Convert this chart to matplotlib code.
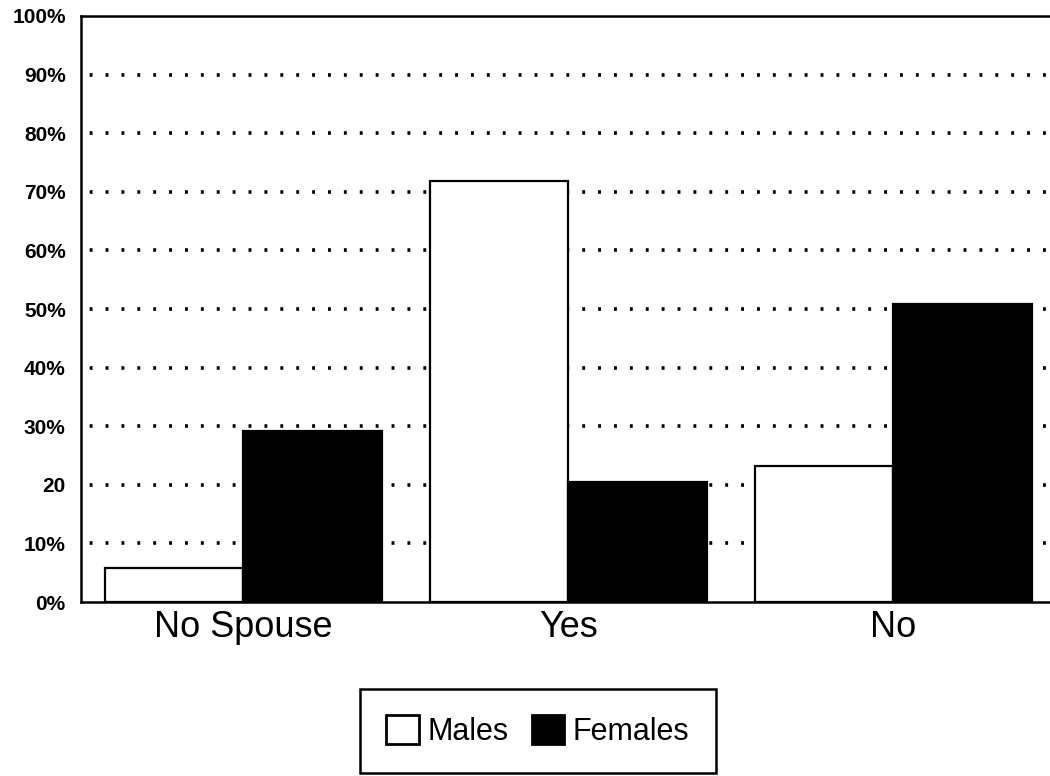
import numpy as np
import matplotlib.pyplot as plt
from matplotlib.patches import Patch

# data
categories = ["No Spouse", "Yes", "No"]
males = [5.8, 71.8, 23.2]
females = [29.2, 20.5, 50.9]
ytick_vals = [0, 10, 20, 30, 40, 50, 60, 70, 80, 90, 100]
ytick_labels = ["0%", "10%", "20", "30%", "40%", "50%", "60%", "70%", "80%", "90%", "100%"]

plt.rcParams['font.family'] = ['Liberation Sans', 'DejaVu Sans']

fig = plt.figure(figsize=(10.5, 7.76), dpi=100)
ax = fig.add_axes([0.0771, 0.2242, 0.9286, 0.7552])

x = np.arange(len(categories))
w = 0.425
ax.bar(x - w / 2, males, w, color='white', edgecolor='black', linewidth=1.6, zorder=3)
ax.bar(x + w / 2, females, w, color='black', edgecolor='black', linewidth=1.6, zorder=3)

ax.set_xlim(-0.5, 2.5)
ax.set_ylim(0, 100)

# dotted gridlines behind the bars
for v in ytick_vals[1:-1]:
    ax.axhline(v, color='black', linewidth=2.6, linestyle=(2, (0.8, 3.6)), zorder=1)

ax.set_yticks(ytick_vals)
ax.set_yticklabels(ytick_labels, fontsize=15, fontweight='bold')
ax.set_xticks(x)
ax.set_xticklabels(categories, fontsize=26)
ax.tick_params(axis='both', length=0)
ax.tick_params(axis='y', pad=11)
ax.tick_params(axis='x', pad=6)

for s in ['left', 'top', 'bottom']:
    ax.spines[s].set_linewidth(1.8)
ax.spines['right'].set_visible(False)

handles = [Patch(facecolor='white', edgecolor='black', linewidth=2, label='Males'),
           Patch(facecolor='black', edgecolor='black', linewidth=2, label='Females')]
leg = fig.legend(handles=handles, loc='center', bbox_to_anchor=(538 / 1050, 1 - 731 / 776),
                 ncol=2, fontsize=22, frameon=True, fancybox=False, edgecolor='black',
                 framealpha=1, handlelength=1.05, handleheight=1.05, handletextpad=0.3,
                 columnspacing=0.75, borderpad=0.85)
leg.get_frame().set_linewidth(1.8)

plt.savefig('out.png', dpi=100)
